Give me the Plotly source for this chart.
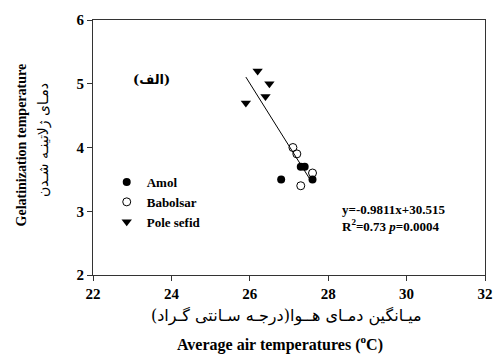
import numpy as np
import plotly.graph_objects as go

# Data
amol_x = [27.3, 27.4, 26.8, 27.6]
amol_y = [3.7, 3.7, 3.5, 3.5]
babolsar_x = [27.1, 27.2, 27.6, 27.3]
babolsar_y = [4.0, 3.9, 3.6, 3.4]
pole_x = [26.2, 26.5, 26.4, 25.9]
pole_y = [5.2, 5.0, 4.8, 4.7]
fit_slope = -0.9811
fit_intercept = 30.515
fit_x_range = [25.9, 27.55]
x_ticks = [22, 24, 26, 28, 30, 32]
y_ticks = [2, 3, 4, 5, 6]

SERIF = "Liberation Serif, Times New Roman, serif"
ARAB = "DejaVu Serif, DejaVu Sans, serif"

fig = go.Figure()
fig.add_trace(go.Scatter(x=amol_x, y=amol_y, mode="markers", name="Amol",
                         marker=dict(symbol="circle", size=8, color="black")))
fig.add_trace(go.Scatter(x=babolsar_x, y=babolsar_y, mode="markers", name="Babolsar",
                         marker=dict(symbol="circle-open", size=8, color="black",
                                     line=dict(width=1, color="black"))))
fig.add_trace(go.Scatter(x=pole_x, y=pole_y, mode="markers", name="Pole sefid",
                         marker=dict(symbol="triangle-down", size=9, color="black")))
fx = np.array(fit_x_range)
fig.add_trace(go.Scatter(x=fx, y=fit_slope * fx + fit_intercept, mode="lines",
                         line=dict(color="black", width=1), showlegend=False))

axis_common = dict(showline=True, linecolor="#333", linewidth=1, mirror=True,
                   ticks="outside", ticklen=5, tickcolor="#333", showgrid=False,
                   zeroline=False, ticklabeloverflow="allow",
                   tickfont=dict(family=SERIF, size=15, color="black"))
fig.update_xaxes(range=[22, 32], tickvals=x_ticks,
                 ticktext=[f"<b>{v}</b>" for v in x_ticks], **axis_common)
fig.update_yaxes(range=[2, 6], tickvals=y_ticks,
                 ticktext=[f"<b>{v}</b>" for v in y_ticks], **axis_common)

annots = [
    dict(text="<b>(الف)</b>", x=23.5, y=5.06, xref="x", yref="y", showarrow=False,
         xanchor="center", yanchor="middle",
         font=dict(family=ARAB, size=13, color="black")),
    dict(text="<b>y=-0.9811x+30.515<br>R<sup>2</sup>=0.73 <i>p</i>=0.0004</b>",
         x=345, y=218, showarrow=False, xanchor="left", align="left",
         font=dict(family=SERIF, size=13, color="black")),
    dict(text="<b>Gelatinization temperature</b>", x=20, y=145, textangle=-90,
         showarrow=False, font=dict(family=SERIF, size=14, color="black")),
    dict(text="دمـای ژلاتینـه شـدن", x=42, y=140, textangle=-90,
         showarrow=False, font=dict(family=ARAB, size=14, color="black")),
    dict(text="میـانگین دمـای هــوا(درجـه سـانتی گـراد)", x=290, y=316,
         showarrow=False, font=dict(family=ARAB, size=16, color="black")),
    dict(text="<b>Average air temperatures (<sup>o</sup>C)</b>", x=284, y=343,
         showarrow=False, font=dict(family=SERIF, size=16, color="black")),
]
L, R, T, B = 93, 6, 20, 79
W, H = 499, 354
pw, ph = W - L - R, H - T - B
for a in annots:
    if a.get("xref") == "x":
        continue
    a.setdefault("xanchor", "center")
    a.setdefault("yanchor", "middle")
    a["x"] = (a["x"] - L) / pw
    a["y"] = 1 - (a["y"] - T) / ph
    a["xref"] = "paper"
    a["yref"] = "paper"
fig.update_layout(annotations=annots)

fig.update_layout(
    width=W, height=H,
    margin=dict(l=L, r=R, t=T, b=B),
    plot_bgcolor="white", paper_bgcolor="white",
    legend=dict(x=0.035, y=1 - (167 - T) / ph, xanchor="left", yanchor="top",
                font=dict(family=SERIF, size=13, color="black", weight="bold"),
                bgcolor="rgba(0,0,0,0)", tracegroupgap=0),
)
fig.write_html("out.html")
